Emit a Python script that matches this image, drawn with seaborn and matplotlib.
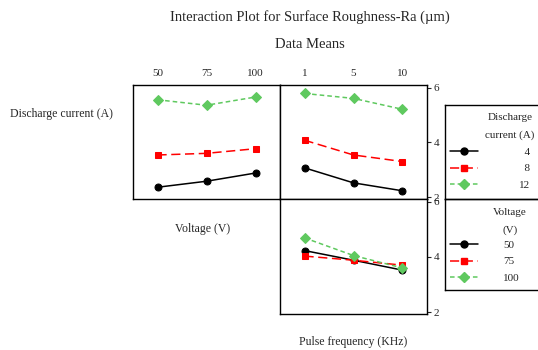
import matplotlib
matplotlib.use("Agg")
import matplotlib.pyplot as plt
import seaborn as sns
import pandas as pd
from matplotlib.lines import Line2D

voltage_levels = ["50", "75", "100"]
pulse_levels = ["1", "5", "10"]
current_levels = ["4", "8", "12"]

# Discharge current rows vs voltage
cur_vs_volt_4 = [2.36, 2.58, 2.88]
cur_vs_volt_8 = [3.54, 3.60, 3.77]
cur_vs_volt_12 = [5.56, 5.36, 5.66]

# Discharge current rows vs pulse frequency
cur_vs_pulse_4 = [3.07, 2.52, 2.23]
cur_vs_pulse_8 = [4.08, 3.54, 3.30]
cur_vs_pulse_12 = [5.79, 5.61, 5.21]

# Voltage rows vs pulse frequency
volt_vs_pulse_50 = [4.23, 3.88, 3.52]
volt_vs_pulse_75 = [4.03, 3.88, 3.70]
volt_vs_pulse_100 = [4.69, 4.05, 3.60]

sns.set_style("white")
plt.rcParams['font.family'] = ['Liberation Serif', 'DejaVu Serif']

colors = ["#000000", "#ff0000", "#5fc95f"]
markers = ["o", "s", "D"]
dashes = ["", (6, 3), (3, 2)]
MS = 5


def make_df(levels, series_names, series_vals):
    rows = []
    for name, vals in zip(series_names, series_vals):
        for i, (lv, v) in enumerate(zip(levels, vals)):
            rows.append({"pos": i, "level": lv, "series": name, "val": v})
    return pd.DataFrame(rows)


W, H = 538, 350
fig = plt.figure(figsize=(W / 100, H / 100), dpi=100)


def px_axes(x0, y0, x1, y1):
    return fig.add_axes([x0 / W, 1 - y1 / H, (x1 - x0) / W, (y1 - y0) / H])


def draw(ax, df, names):
    pal = dict(zip(names, colors))
    mk = dict(zip(names, markers))
    ds = dict(zip(names, dashes))
    sns.lineplot(data=df, x="pos", y="val", hue="series", style="series",
                 palette=pal, markers=mk, dashes=ds, markersize=MS,
                 linewidth=1.1, ax=ax, legend=False)
    for l in ax.lines:
        l.set_markeredgecolor(l.get_color())
    ax.set_xlim(-0.5, 2.5)
    ax.set_ylim(1.93, 6.1)
    ax.set_xlabel("")
    ax.set_ylabel("")
    for s in ax.spines.values():
        s.set_color("black")
        s.set_linewidth(1.0)


ax1 = px_axes(133, 85, 280, 199)
ax2 = px_axes(280, 85, 427, 199)
ax3 = px_axes(280, 199, 427, 314)

draw(ax1, make_df(voltage_levels, current_levels,
                  [cur_vs_volt_4, cur_vs_volt_8, cur_vs_volt_12]), current_levels)
draw(ax2, make_df(pulse_levels, current_levels,
                  [cur_vs_pulse_4, cur_vs_pulse_8, cur_vs_pulse_12]), current_levels)
draw(ax3, make_df(pulse_levels, voltage_levels,
                  [volt_vs_pulse_50, volt_vs_pulse_75, volt_vs_pulse_100]), voltage_levels)

for ax, labels in [(ax1, voltage_levels), (ax2, pulse_levels)]:
    ax.set_xticks(range(3))
    ax.set_xticklabels(labels)
    ax.xaxis.tick_top()
    ax.tick_params(axis="x", length=0, pad=5, labelsize=8)
ax3.set_xticks([])
ax1.set_yticks([])
for ax in (ax2, ax3):
    ax.set_yticks([2, 4, 6])
    ax.yaxis.tick_right()
    ax.tick_params(axis="y", length=3, width=0.8, direction="out",
                   labelsize=8, pad=2, right=True, left=False)

fig.text(310 / W, 1 - 17 / H, "Interaction Plot for Surface Roughness-Ra (\u00b5m)",
         ha="center", va="center", fontsize=10.5)
fig.text(310 / W, 1 - 45 / H, "Data Means", ha="center", va="center", fontsize=10.5)
fig.text(10 / W, 1 - 114 / H, "Discharge current (A)", ha="left", va="center", fontsize=8.5)
fig.text(203 / W, 1 - 229 / H, "Voltage (V)", ha="center", va="center", fontsize=8.5)
fig.text(353 / W, 1 - 342 / H, "Pulse frequency (KHz)", ha="center", va="center", fontsize=8.5)


def make_legend(names, labels, title_lines, y0, y1, title_ys, first_y, textpad):
    lax = px_axes(445, y0, 548, y1)
    lax.set_xticks([])
    lax.set_yticks([])
    lax.set_facecolor("none")
    for s in lax.spines.values():
        s.set_color("black")
        s.set_linewidth(1.0)
    x0, x1 = 445, 548
    for t, ty in zip(title_lines, title_ys):
        lax.text((510 - x0) / (x1 - x0), 1 - (ty - y0) / (y1 - y0), t,
                 transform=lax.transAxes, ha="center", va="center", fontsize=8)
    handles = []
    for c, m, d in zip(colors, markers, dashes):
        h = Line2D([0], [0], color=c, marker=m, markersize=MS,
                   markeredgecolor=c, linewidth=1.1)
        if d == "":
            h.set_linestyle("-")
        else:
            h.set_dashes(d)
        handles.append(h)
    leg = lax.legend(handles, labels, loc="upper left",
                     bbox_to_anchor=((450 - x0) / (x1 - x0),
                                     1 - (first_y - 6 - y0) / (y1 - y0)),
                     frameon=False, fontsize=8, handlelength=2.5,
                     handletextpad=textpad, borderpad=0, borderaxespad=0,
                     labelspacing=0.62)
    return leg


make_legend(current_levels, ["  4", "  8", "12"], ["Discharge", "current (A)"],
            105, 199, [117, 135], 153, 3.7)
make_legend(voltage_levels, voltage_levels, ["Voltage", "(V)"],
            199, 290, [212, 230], 246, 2.3)

fig.savefig("out.png", dpi=100)
